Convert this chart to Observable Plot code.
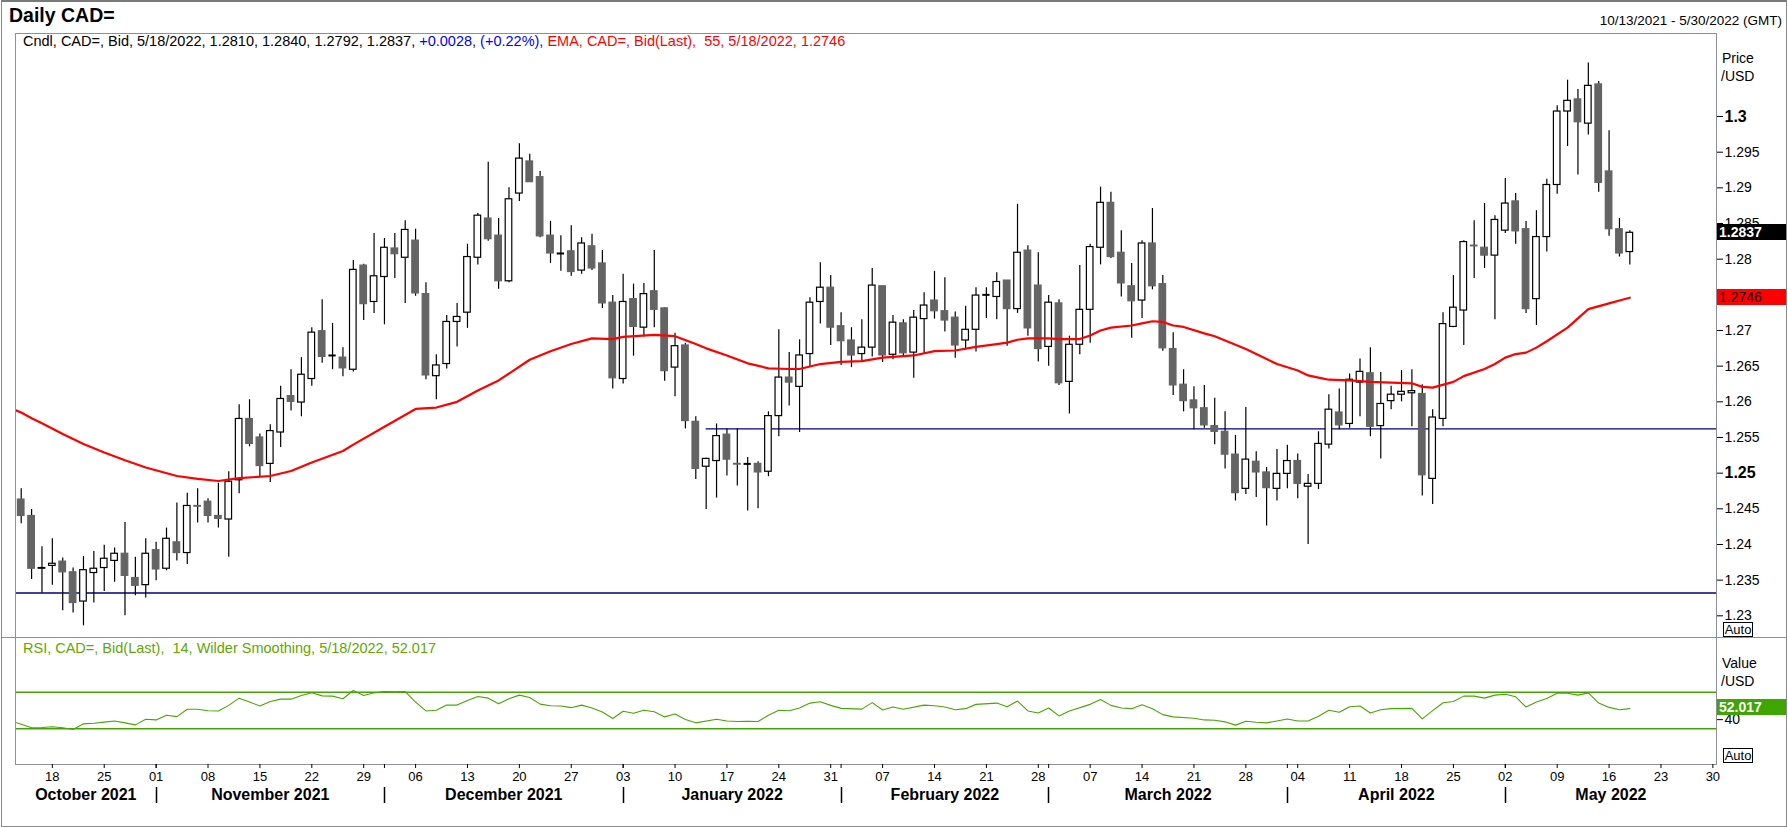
<!DOCTYPE html>
<html><head><meta charset="utf-8">
<script src="https://cdn.jsdelivr.net/npm/d3@7"></script>
<script src="https://cdn.jsdelivr.net/npm/@observablehq/plot@0.6"></script>
<style>
html,body{margin:0;padding:0;background:#fff;}
#wrap{position:relative;width:1788px;height:827px;overflow:hidden;background:#fff;font-family:"Liberation Sans",Arial,sans-serif;color:#000;}
.abs{position:absolute;white-space:pre;}
.box{position:absolute;height:16px;line-height:16px;font-size:14px;padding-left:2px;box-sizing:border-box;white-space:pre;}
.auto{position:absolute;width:30px;height:15px;border:1px solid #000;box-sizing:border-box;font-size:13px;line-height:13px;text-align:center;background:#fff;}
svg{position:absolute;left:0;overflow:visible;}
</style></head>
<body><div id="wrap"></div>
<script>
// ---------- DATA ----------
const dates = [
"2021-10-13","2021-10-14","2021-10-15","2021-10-18","2021-10-19","2021-10-20","2021-10-21","2021-10-22","2021-10-25","2021-10-26","2021-10-27","2021-10-28","2021-10-29",
"2021-11-01","2021-11-02","2021-11-03","2021-11-04","2021-11-05","2021-11-08","2021-11-09","2021-11-10","2021-11-11","2021-11-12","2021-11-15","2021-11-16","2021-11-17","2021-11-18","2021-11-19","2021-11-22","2021-11-23","2021-11-24","2021-11-25","2021-11-26","2021-11-29","2021-11-30",
"2021-12-01","2021-12-02","2021-12-03","2021-12-06","2021-12-07","2021-12-08","2021-12-09","2021-12-10","2021-12-13","2021-12-14","2021-12-15","2021-12-16","2021-12-17","2021-12-20","2021-12-21","2021-12-22","2021-12-23","2021-12-24","2021-12-27","2021-12-28","2021-12-29","2021-12-30","2021-12-31",
"2022-01-03","2022-01-04","2022-01-05","2022-01-06","2022-01-07","2022-01-10","2022-01-11","2022-01-12","2022-01-13","2022-01-14","2022-01-17","2022-01-18","2022-01-19","2022-01-20","2022-01-21","2022-01-24","2022-01-25","2022-01-26","2022-01-27","2022-01-28","2022-01-31",
"2022-02-01","2022-02-02","2022-02-03","2022-02-04","2022-02-07","2022-02-08","2022-02-09","2022-02-10","2022-02-11","2022-02-14","2022-02-15","2022-02-16","2022-02-17","2022-02-18","2022-02-21","2022-02-22","2022-02-23","2022-02-24","2022-02-25","2022-02-28",
"2022-03-01","2022-03-02","2022-03-03","2022-03-04","2022-03-07","2022-03-08","2022-03-09","2022-03-10","2022-03-11","2022-03-14","2022-03-15","2022-03-16","2022-03-17","2022-03-18","2022-03-21","2022-03-22","2022-03-23","2022-03-24","2022-03-25","2022-03-28","2022-03-29","2022-03-30","2022-03-31",
"2022-04-01","2022-04-04","2022-04-05","2022-04-06","2022-04-07","2022-04-08","2022-04-11","2022-04-12","2022-04-13","2022-04-14","2022-04-15","2022-04-18","2022-04-19","2022-04-20","2022-04-21","2022-04-22","2022-04-25","2022-04-26","2022-04-27","2022-04-28","2022-04-29",
"2022-05-02","2022-05-03","2022-05-04","2022-05-05","2022-05-06","2022-05-09","2022-05-10","2022-05-11","2022-05-12","2022-05-13","2022-05-16","2022-05-17","2022-05-18"];

const opens = [1.2463,1.2440,1.2366,1.2370,1.2376,1.2361,1.2320,1.2360,1.2367,1.2377,1.2387,1.2353,1.2343,
1.2392,1.2366,1.2403,1.2388,1.2454,1.2460,1.2440,1.2435,1.2490,1.2576,1.2550,1.2513,1.2557,1.2608,1.2599,1.2632,1.2699,1.2665,1.2662,1.2645,1.2791,1.2740,
1.2775,1.2815,1.2802,1.2826,1.2751,1.2636,1.2653,1.2712,1.2725,1.2802,1.2857,1.2833,1.2769,1.2892,1.2937,1.2915,1.2833,1.2808,1.2811,1.2784,1.2818,1.2794,1.2739,
1.2632,1.2744,1.2704,1.2755,1.2731,1.2648,1.2679,1.2572,1.2509,1.2517,1.2554,1.2513,1.2513,1.2513,1.2502,1.2580,1.2634,1.2621,1.2667,1.2740,1.2760,
1.2706,1.2686,1.2667,1.2676,1.2762,1.2666,1.2710,1.2669,1.2716,1.2742,1.2727,1.2718,1.2686,1.2701,1.2750,1.2747,1.2770,1.2730,1.2812,1.2763,
1.2677,1.2738,1.2628,1.2680,1.2729,1.2816,1.2879,1.2809,1.2762,1.2742,1.2822,1.2765,1.2674,1.2624,1.2602,1.2591,1.2566,1.2558,1.2526,1.2478,1.2516,1.2501,1.2478,
1.2499,1.2517,1.2481,1.2485,1.2540,1.2585,1.2569,1.2627,1.2640,1.2566,1.2601,1.2610,1.2612,1.2611,1.2492,1.2576,1.2705,1.2728,1.2819,1.2816,1.2805,
1.2840,1.2881,1.2842,1.2744,1.2831,1.2904,1.3007,1.3024,1.2990,1.3045,1.2923,1.2842,1.2810];
const highs = [1.2478,1.2449,1.2397,1.2408,1.2381,1.2367,1.2383,1.2390,1.2399,1.2395,1.2431,1.2382,1.2408,
1.2403,1.2423,1.2458,1.2472,1.2478,1.2464,1.2486,1.2502,1.2596,1.2603,1.2555,1.2568,1.2622,1.2645,1.2662,1.2704,1.2743,1.2710,1.2676,1.2798,1.2793,1.2836,
1.2829,1.2836,1.2854,1.2842,1.2767,1.2666,1.2721,1.2738,1.2821,1.2864,1.2936,1.2857,1.2900,1.2962,1.2947,1.2923,1.2853,1.2833,1.2847,1.2830,1.2835,1.2812,1.2749,
1.2779,1.2765,1.2766,1.2812,1.2732,1.2696,1.2682,1.2579,1.2521,1.2569,1.2562,1.2562,1.2522,1.2516,1.2586,1.2701,1.2669,1.2687,1.2746,1.2795,1.2777,
1.2725,1.2704,1.2715,1.2787,1.2762,1.2721,1.2715,1.2728,1.2753,1.2783,1.2774,1.2726,1.2734,1.2760,1.2760,1.2781,1.2770,1.2877,1.2819,1.2809,
1.2749,1.2743,1.2692,1.2791,1.2821,1.2901,1.2894,1.2840,1.2794,1.2826,1.2871,1.2777,1.2697,1.2645,1.2621,1.2623,1.2605,1.2586,1.2553,1.2592,1.2530,1.2508,1.2533,
1.2539,1.2527,1.2498,1.2558,1.2610,1.2618,1.2639,1.2660,1.2676,1.2641,1.2622,1.2644,1.2645,1.2624,1.2589,1.2725,1.2777,1.2826,1.2854,1.2878,1.2861,
1.2913,1.2892,1.2853,1.2868,1.2912,1.3015,1.3051,1.3038,1.3075,1.3049,1.2980,1.2857,1.2840];
const lows = [1.2429,1.2351,1.2332,1.2343,1.2307,1.2304,1.2286,1.2318,1.2334,1.2347,1.2300,1.2328,1.2325,
1.2349,1.2363,1.2377,1.2372,1.2430,1.2430,1.2423,1.2382,1.2471,1.2537,1.2494,1.2487,1.2536,1.2587,1.2579,1.2622,1.2654,1.2645,1.2635,1.2642,1.2714,1.2724,
1.2708,1.2773,1.2738,1.2748,1.2631,1.2603,1.2646,1.2677,1.2703,1.2792,1.2825,1.2758,1.2767,1.2881,1.2908,1.2830,1.2794,1.2783,1.2776,1.2779,1.2784,1.2731,1.2618,
1.2625,1.2664,1.2691,1.2704,1.2629,1.2607,1.2562,1.2491,1.2449,1.2465,1.2496,1.2482,1.2447,1.2450,1.2495,1.2551,1.2594,1.2557,1.2649,1.2709,1.2679,
1.2651,1.2648,1.2655,1.2663,1.2655,1.2659,1.2663,1.2633,1.2667,1.2716,1.2698,1.2661,1.2674,1.2670,1.2717,1.2715,1.2678,1.2724,1.2692,1.2656,
1.2650,1.2623,1.2583,1.2666,1.2682,1.2792,1.2801,1.2747,1.2689,1.2717,1.2757,1.2671,1.2609,1.2586,1.2561,1.2563,1.2540,1.2506,1.2461,1.2470,1.2466,1.2426,1.2461,
1.2478,1.2464,1.2400,1.2477,1.2534,1.2561,1.2563,1.2579,1.2551,1.2520,1.2589,1.2600,1.2565,1.2468,1.2456,1.2565,1.2704,1.2679,1.2773,1.2787,1.2715,
1.2836,1.2821,1.2724,1.2707,1.2810,1.2891,1.2958,1.2918,1.2974,1.2894,1.2832,1.2803,1.2792];
const closes = [1.2440,1.2366,1.2367,1.2373,1.2361,1.2318,1.2364,1.2366,1.2380,1.2387,1.2356,1.2342,1.2387,
1.2365,1.2408,1.2388,1.2454,1.2453,1.2440,1.2436,1.2488,1.2576,1.2541,1.2510,1.2559,1.2604,1.2600,1.2638,1.2697,1.2663,1.2665,1.2647,1.2785,1.2737,1.2776,
1.2816,1.2807,1.2841,1.2752,1.2637,1.2651,1.2712,1.2719,1.2803,1.2861,1.2828,1.2769,1.2884,1.2941,1.2908,1.2832,1.2808,1.2808,1.2782,1.2822,1.2787,1.2738,1.2633,
1.2740,1.2705,1.2751,1.2729,1.2643,1.2678,1.2573,1.2506,1.2520,1.2552,1.2519,1.2512,1.2513,1.2501,1.2580,1.2634,1.2627,1.2665,1.2739,1.2760,1.2704,
1.2685,1.2665,1.2676,1.2763,1.2665,1.2711,1.2668,1.2718,1.2735,1.2727,1.2714,1.2679,1.2701,1.2749,1.2750,1.2768,1.2730,1.2809,1.2703,1.2674,
1.2739,1.2626,1.2680,1.2729,1.2817,1.2879,1.2803,1.2766,1.2741,1.2822,1.2762,1.2675,1.2623,1.2601,1.2591,1.2567,1.2558,1.2526,1.2472,1.2519,1.2501,1.2479,1.2499,
1.2517,1.2485,1.2485,1.2541,1.2589,1.2567,1.2631,1.2642,1.2565,1.2597,1.2610,1.2614,1.2615,1.2497,1.2578,1.2709,1.2732,1.2824,1.2818,1.2805,1.2855,
1.2878,1.2839,1.2730,1.2831,1.2904,1.3007,1.3022,1.2992,1.3043,1.2907,1.2842,1.2808,1.2837];

// EMA(55): trading-day number (0 = 10/13/2021, -1 = the day before, cut by the frame) and value
const emaDay = [-1,0,1,2,4,6,8,10,12,15,17,19,21,24,26,28,31,32,35,38,40,42,44,46,49,51,53,55,57,58,61,63,65,66,68,70,72,74,75,77,79,81,83,86,88,90,92,94,95,96,97,99,100,102,103,104,105,107,108,109,110,111,112,114,115,116,118,119,120,121,123,124,125,126,128,129,130,132,134,135,136,138,139,141,142,143,144,145,146,147,149,150,151,153,154,155];
const emaValue = [1.2591,1.2585,1.2577,1.2570,1.2555,1.2541,1.2529,1.2518,1.2508,1.2496,1.2492,1.2489,1.2493,1.2496,1.2503,1.2515,1.2531,1.2540,1.2565,1.2590,1.2592,1.2600,1.2616,1.2630,1.2659,1.2671,1.2681,1.2689,1.2688,1.2691,1.2694,1.2692,1.2681,1.2675,1.2665,1.2654,1.2647,1.2646,1.2646,1.2653,1.2656,1.2657,1.2662,1.2665,1.2671,1.2672,1.2677,1.2681,1.2683,1.2687,1.2689,1.2689,1.2688,1.2688,1.2693,1.2700,1.2704,1.2707,1.2710,1.2713,1.2712,1.2707,1.2705,1.2696,1.2692,1.2686,1.2674,1.2667,1.2660,1.2653,1.2644,1.2637,1.2634,1.2631,1.2630,1.2629,1.2628,1.2627,1.2626,1.2621,1.2620,1.2628,1.2636,1.2646,1.2653,1.2662,1.2667,1.2669,1.2676,1.2685,1.2704,1.2717,1.2730,1.2738,1.2742,1.2746];

// RSI(14) (same day numbering)
const rsiDay = [-1,0,1,2,3,4,5,6,7,8,9,10,11,12,13,14,15,16,17,18,19,20,21,22,23,24,25,26,27,28,29,30,31,32,33,34,35,36,37,38,39,40,41,42,43,44,45,46,47,48,49,50,51,52,53,54,55,56,57,58,59,60,61,62,63,64,65,67,68,69,70,71,72,73,74,75,76,77,78,79,81,82,83,84,85,87,88,89,90,91,92,94,95,96,97,98,99,100,101,103,104,105,106,107,108,109,110,111,113,114,115,116,117,118,119,120,121,122,123,124,125,126,127,128,129,130,131,132,134,135,136,137,138,139,140,141,142,143,144,145,146,147,148,149,150,151,152,153,154,155];
const rsiValue = [38.6,35.0,31.1,31.4,32.2,31.2,29.3,35.4,36.1,37.3,38.6,36.5,34.3,40.5,39.7,44.8,43.3,51.3,51.3,49.8,49.5,55.6,63.5,59.2,54.9,59.9,62.4,62.4,66.4,69.3,66.0,65.7,62.8,71.8,66.4,69.3,70.7,70.4,70.7,59.2,49.5,50.2,55.9,55.9,61.0,65.3,63.5,57.4,62.8,66.8,64.2,57.0,55.2,54.9,53.1,55.9,52.7,48.4,41.2,49.1,46.9,50.2,48.7,43.0,46.2,40.1,36.5,40.5,38.6,37.9,38.3,37.9,44.8,50.2,49.8,52.7,58.1,59.6,55.6,52.3,51.5,58.6,50.5,53.8,51.3,55.9,55.2,53.8,50.9,52.0,56.7,58.1,54.1,60.3,49.5,47.3,52.7,44.1,49.5,56.7,62.1,55.6,52.7,52.0,56.3,52.0,45.5,43.0,41.5,39.7,39.4,37.6,34.0,38.3,37.2,36.5,38.6,40.8,38.6,38.6,43.7,50.2,48.0,54.1,54.9,47.3,50.9,52.0,52.3,40.8,49.8,58.5,59.9,65.7,65.7,63.5,66.8,67.8,65.0,53.8,59.2,63.2,68.9,68.9,66.8,69.3,58.1,53.4,50.9,52.0];

const priceTicks = [1.23,1.235,1.24,1.245,1.255,1.26,1.265,1.27,1.28,1.285,1.29,1.295];
const priceTicksMajor = [1.25,1.3];
const rsiTicks = [40];
const rsiBands = [30,70];
const lineLevels = [1.2562,1.2332];
const lineFrom = ["2022-01-13",null];
const axisDates = ["2021-10-18","2021-10-25","2021-11-01","2021-11-08","2021-11-15","2021-11-22","2021-11-29","2021-12-06","2021-12-13","2021-12-20","2021-12-27","2022-01-03","2022-01-10","2022-01-17","2022-01-24","2022-01-31","2022-02-07","2022-02-14","2022-02-21","2022-02-28","2022-03-07","2022-03-14","2022-03-21","2022-03-28","2022-04-04","2022-04-11","2022-04-18","2022-04-25","2022-05-02","2022-05-09","2022-05-16","2022-05-23","2022-05-30"];
const axisLabels = ["18","25","01","08","15","22","29","06","13","20","27","03","10","17","24","31","07","14","21","28","07","14","21","28","04","11","18","25","02","09","16","23","30"];
const monthStarts = ["2021-11-01","2021-12-01","2022-01-03","2022-02-01","2022-03-01","2022-04-01","2022-05-02"];
const monthNames = ["October 2021","November 2021","December 2021","January 2022","February 2022","March 2022","April 2022","May 2022"];
const windowStart = "2021-10-13", windowEnd = "2022-05-30";
const lastClose = 1.2837, lastEma = 1.2746, lastRsi = 52.017;

// ---------- HELPERS ----------
const t0 = new Date(windowStart + "T00:00:00Z");
function dayNo(s){
  const d = new Date(s + "T00:00:00Z"); let n = 0;
  for (let t = new Date(t0); t < d; t.setUTCDate(t.getUTCDate()+1)) { const w = t.getUTCDay(); if (w !== 0 && w !== 6) n++; }
  return n;
}
const xDomain = [dayNo(windowStart) - 0.55, dayNo(windowEnd) + 0.35];
const FONT = '"Liberation Sans", Arial, sans-serif';
const wrap = document.getElementById("wrap");
function addDiv(cls, css, html){ const e = document.createElement("div"); e.className = cls; e.style.cssText = css; e.innerHTML = html; wrap.appendChild(e); return e; }

const rows = dates.map((d,i)=>({i: dayNo(d), o: opens[i], h: highs[i], l: lows[i], c: closes[i]}));
const isUp = d => d.c >= d.o;
const ema = emaDay.map((n,k)=>({i: n, v: emaValue[k]}));
const rsi = rsiDay.map((n,k)=>({i: n, v: rsiValue[k]}));
const levels = lineLevels.map((v,k)=>({level: v, x1: lineFrom[k] ? dayNo(lineFrom[k]) : xDomain[0]}));

// ---------- PRICE PANEL ----------
const priceChart = Plot.plot({
  width: 1788, height: 610, marginTop: 5, marginBottom: 1, marginLeft: 15, marginRight: 72,
  x: {type: "linear", domain: xDomain, axis: null},
  y: {domain: [1.22696, 1.31164], axis: null},
  color: {type: "identity"},
  style: {fontFamily: FONT, fontSize: "14px", background: "transparent", overflow: "visible", color: "#000"},
  marks: [
    Plot.ruleY(levels, {y: "level", x1: "x1", x2: xDomain[1], stroke: "#000080", strokeWidth: 1.3}),
    Plot.ruleX(rows, {x: "i", y1: "l", y2: "h", stroke: "#000", strokeWidth: 1.2}),
    Plot.rect(rows.filter(d => d.o !== d.c), {
      x1: d => d.i - 0.5, x2: d => d.i + 0.5, insetLeft: 1.9, insetRight: 1.9,
      y1: d => Math.min(d.o, d.c), y2: d => Math.max(d.o, d.c),
      fill: d => isUp(d) ? "#ffffff" : "#646464", stroke: d => isUp(d) ? "#000000" : "#646464", strokeWidth: 1.2
    }),
    Plot.ruleY(rows.filter(d => d.o === d.c), {y: "o", x1: d => d.i - 0.35, x2: d => d.i + 0.35, stroke: "#000", strokeWidth: 2}),
    Plot.line(ema, {x: "i", y: "v", stroke: "#ff0000", strokeWidth: 2.2, clip: true}),
    Plot.frame({stroke: "#8e8e9e"}),
    Plot.axisY(priceTicks, {anchor: "right", tickSize: 6, tickPadding: 2, fontSize: 14, tickFormat: d => String(d), label: null}),
    Plot.axisY(priceTicksMajor, {anchor: "right", tickSize: 6, tickPadding: 2, fontSize: 16, fontWeight: "bold", tickFormat: d => String(d), label: null})
  ]
});
priceChart.style.top = "28px";
wrap.appendChild(priceChart);

// ---------- RSI PANEL ----------
const monthIdx = monthStarts.map(dayNo);
const bounds = [xDomain[0], ...monthIdx, xDomain[1]];
const months = monthNames.map((name,k)=>({name, cx: (bounds[k] + bounds[k+1]) / 2}));
const axisIdx = axisDates.map(dayNo);
const labelOf = new Map(axisIdx.map((n,k)=>[n, axisLabels[k]]));

const rsiChart = Plot.plot({
  width: 1788, height: 190, marginTop: 0, marginBottom: 63, marginLeft: 15, marginRight: 72,
  x: {type: "linear", domain: xDomain, axis: null},
  y: {domain: [-9.02, 129.78], axis: null},
  style: {fontFamily: FONT, fontSize: "13px", background: "transparent", overflow: "visible", color: "#000"},
  marks: [
    Plot.ruleY(rsiBands, {stroke: "#44a300", strokeWidth: 1.6}),
    Plot.line(rsi, {x: "i", y: "v", stroke: "#48a600", strokeWidth: 1.1, clip: true}),
    Plot.frame({stroke: "#8e8e9e"}),
    Plot.axisY(rsiTicks, {anchor: "right", tickSize: 6, tickPadding: 2, fontSize: 14, label: null}),
    Plot.axisX(axisIdx, {anchor: "bottom", tickSize: 4, tickPadding: 3, fontSize: 13, tickFormat: n => labelOf.get(n), label: null}),
    Plot.axisX(monthIdx, {anchor: "bottom", tickSize: 4, tickFormat: () => "", label: null}),
    Plot.text(months, {x: "cx", text: "name", frameAnchor: "bottom", lineAnchor: "bottom", dy: 35, fontSize: 16, fontWeight: "bold", fill: "#000"})
  ]
});
rsiChart.style.top = "637px";
wrap.appendChild(rsiChart);

// month separators (drawn with the plot's x scale)
const xs = rsiChart.scale("x");
d3.select(rsiChart).append("g").selectAll("line").data(monthIdx).join("line")
  .attr("x1", d => Math.round(xs.apply(d)) + 0.5).attr("x2", d => Math.round(xs.apply(d)) + 0.5)
  .attr("y1", 150).attr("y2", 166).attr("stroke", "#000").attr("stroke-width", 1.5);

// ---------- FRAME / TEXT ----------
addDiv("abs", "left:1px;top:0;width:1784px;height:824px;border:1px solid #8a8a8a;border-top:2px solid #7a7a7a;", "");
addDiv("abs", "left:2px;top:637px;width:1784px;height:1px;background:#8e8e9e;", "");
addDiv("abs", "left:9px;top:3px;font-size:19.5px;font-weight:bold;line-height:24px;", "Daily CAD=");
addDiv("abs", "right:6px;top:13px;font-size:13.5px;line-height:16px;", "10/13/2021 - 5/30/2022 (GMT)");
addDiv("abs", "left:23px;top:33px;font-size:14.5px;line-height:16px;",
  'Cndl, CAD=, Bid, 5/18/2022, 1.2810, 1.2840, 1.2792, 1.2837, <span style="color:#0000ff">+0.0028, (+0.22%), </span><span style="color:#ff0000">EMA, CAD=, Bid(Last),  55, 5/18/2022, 1.2746</span>');
addDiv("abs", "left:23px;top:640px;font-size:14.5px;line-height:16px;color:#5fa800;", "RSI, CAD=, Bid(Last),  14, Wilder Smoothing, 5/18/2022, 52.017");
addDiv("abs", "left:1722px;top:50px;font-size:14px;line-height:16px;", "Price");
addDiv("abs", "left:1721px;top:68px;font-size:14px;line-height:16px;", "/USD");
addDiv("abs", "left:1722px;top:655px;font-size:14px;line-height:16px;", "Value");
addDiv("abs", "left:1721px;top:673px;font-size:14px;line-height:16px;", "/USD");
addDiv("auto", "left:1723px;top:622px;", "Auto");
addDiv("auto", "left:1723px;top:748px;", "Auto");

// value boxes on the right axes, positioned with the plots' y scales
const ysP = priceChart.scale("y"), ysR = rsiChart.scale("y");
addDiv("box", `left:1717px;width:69px;top:${28 + ysP.apply(lastClose) - 8}px;background:#000;color:#fff;font-weight:bold;`, lastClose.toFixed(4));
addDiv("box", `left:1717px;width:69px;top:${28 + ysP.apply(lastEma) - 8}px;background:#ff0000;color:#000;`, lastEma.toFixed(4));
addDiv("box", `left:1717px;width:69px;top:${637 + ysR.apply(lastRsi) - 9}px;background:#3fa500;color:#fff;font-weight:bold;`, lastRsi.toFixed(3));
</script></body></html>
